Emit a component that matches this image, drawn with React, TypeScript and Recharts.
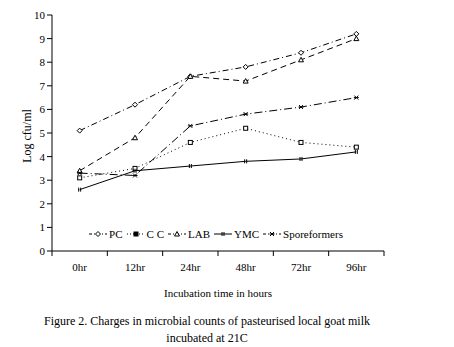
import React from "react";
import { Line, LineChart, XAxis, YAxis } from "recharts";

const times = ["0hr", "12hr", "24hr", "48hr", "72hr", "96hr"];
const pc = [5.1, 6.2, 7.4, 7.8, 8.4, 9.2];
const cc = [3.1, 3.5, 4.6, 5.2, 4.6, 4.4];
const lab = [3.4, 4.8, 7.4, 7.2, 8.1, 9.0];
const ymc = [2.6, 3.4, 3.6, 3.8, 3.9, 4.2];
const spore = [3.3, 3.2, 5.3, 5.8, 6.1, 6.5];
const yTicks = [0, 1, 2, 3, 4, 5, 6, 7, 8, 9, 10];
const bandTicks = [0, 1, 2, 3, 4, 5, 6];

const data = times.map((t, i) => ({
  time: t,
  idx: i + 0.5,
  PC: pc[i],
  CC: cc[i],
  LAB: lab[i],
  YMC: ymc[i],
  Sporeformers: spore[i],
}));

const FONT = "Liberation Serif, Times New Roman, serif";

type Shape = "diamond" | "square" | "triangle" | "dash" | "star";

const Marker = ({ cx, cy, shape, fill }: { cx: number; cy: number; shape: Shape; fill?: boolean }) => {
  const s = { stroke: "#000", strokeWidth: 1, fill: fill ? "#000" : "#fff" };
  if (shape === "diamond")
    return <polygon points={`${cx},${cy - 2.5} ${cx + 2.5},${cy} ${cx},${cy + 2.5} ${cx - 2.5},${cy}`} {...s} />;
  if (shape === "square") return <rect x={cx - 2} y={cy - 2} width={4} height={4} {...s} />;
  if (shape === "triangle")
    return <polygon points={`${cx},${cy - 2.5} ${cx + 2.5},${cy + 2} ${cx - 2.5},${cy + 2}`} {...s} />;
  if (shape === "dash")
    return (
      <g stroke="#000" strokeWidth={1}>
        <line x1={cx - 1} y1={cy - 2} x2={cx - 1} y2={cy + 2} />
        <line x1={cx + 1} y1={cy - 2} x2={cx + 1} y2={cy + 2} />
      </g>
    );
  return (
    <g stroke="#000" strokeWidth={1}>
      <line x1={cx - 2} y1={cy - 2} x2={cx + 2} y2={cy + 2} />
      <line x1={cx - 2} y1={cy + 2} x2={cx + 2} y2={cy - 2} />
      <line x1={cx - 2.5} y1={cy} x2={cx + 2.5} y2={cy} />
    </g>
  );
};

const series: { key: string; label: string; dash?: string; shape: Shape }[] = [
  { key: "PC", label: "PC", dash: "6 3 1 3", shape: "diamond" },
  { key: "CC", label: "C C", dash: "1 3", shape: "square" },
  { key: "LAB", label: "LAB", dash: "6 4", shape: "triangle" },
  { key: "YMC", label: "YMC", shape: "dash" },
  { key: "Sporeformers", label: "Sporeformers", dash: "8 3 1 3", shape: "star" },
];

const LegendBox = () => (
  <div
    style={{
      position: "absolute",
      top: 228,
      left: 52,
      width: 332,
      display: "flex",
      justifyContent: "center",
      fontFamily: FONT,
      fontSize: 11,
      color: "#000",
    }}
  >
    {series.map((s) => (
      <span key={s.key} style={{ display: "inline-flex", alignItems: "center", marginRight: 4 }}>
        <svg width={18} height={10}>
          <line x1={0} y1={5} x2={18} y2={5} stroke="#000" strokeDasharray={s.key === "CC" ? "1 2" : s.dash ? "3 2 1 2" : undefined} />
          <Marker cx={9} cy={5} shape={s.shape} fill={s.shape === "square"} />
        </svg>
        <span style={{ marginLeft: 2 }}>{s.label}</span>
      </span>
    ))}
  </div>
);

export default function App() {
  return (
    <div
      style={{
        position: "absolute",
        left: 0,
        top: 0,
        width: 454,
        height: 347,
        background: "#fff",
        fontFamily: FONT,
      }}
    >
      <LineChart
        width={454}
        height={347}
        data={data}
        margin={{ top: 15, right: 70, left: 22, bottom: 66 }}
        style={{ fontFamily: FONT }}
      >
        <XAxis
          xAxisId="bands"
          type="number"
          dataKey="idx"
          domain={[0, 6]}
          ticks={bandTicks}
          interval={0}
          tickFormatter={() => ""}
          height={1}
          tickSize={5}
          stroke="#000"
        />
        <XAxis
          xAxisId="cat"
          dataKey="time"
          scale="band"
          axisLine={false}
          tickLine={false}
          height={29}
          tick={{ fill: "#000", fontSize: 11, fontFamily: FONT }}
          tickMargin={5}
        />
        <YAxis
          domain={[0, 10]}
          ticks={yTicks}
          width={30}
          stroke="#000"
          tickSize={5}
          tick={{ fill: "#000", fontSize: 11, fontFamily: FONT }}
          label={{
            value: "Log cfu/ml",
            angle: -90,
            position: "insideLeft",
            offset: 5,
            dy: 3,
            style: { fill: "#000", fontSize: 12, fontFamily: FONT, textAnchor: "middle" },
          }}
        />
        {series.map((s) => (
          <Line
            key={s.key}
            xAxisId="cat"
            dataKey={s.key}
            stroke="#000"
            strokeWidth={1}
            strokeDasharray={s.dash}
            isAnimationActive={false}
            dot={(p: any) => <Marker key={`${s.key}-${p.index}`} cx={p.cx} cy={p.cy} shape={s.shape} />}
            activeDot={false}
          />
        ))}
      </LineChart>
      <LegendBox />
      <div
        style={{
          position: "absolute",
          top: 287,
          left: 52,
          width: 332,
          textAlign: "center",
          fontSize: 11,
        }}
      >
        Incubation time in hours
      </div>
      <div
        style={{
          position: "absolute",
          top: 313,
          left: 0,
          width: 414,
          textAlign: "center",
          fontSize: 12,
          lineHeight: "17px",
        }}
      >
        Figure 2. Charges in microbial counts of pasteurised local goat milk
        <br />
        incubated at 21C
      </div>
    </div>
  );
}
